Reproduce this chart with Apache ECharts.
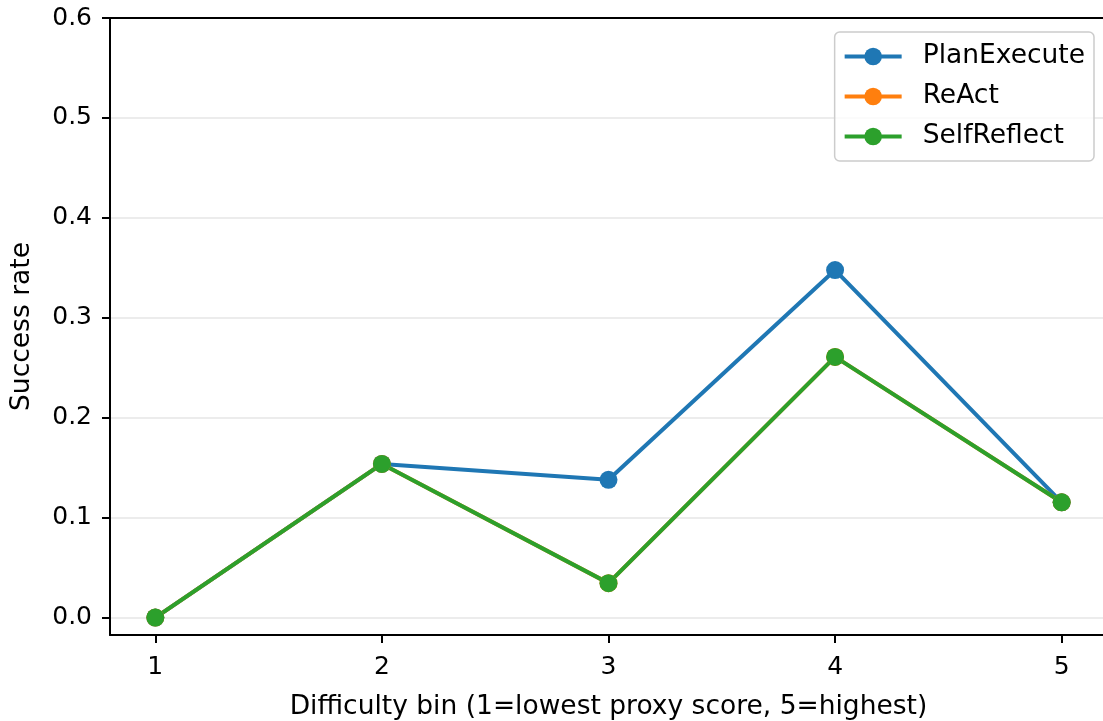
<!DOCTYPE html>
<html>
<head>
<meta charset="utf-8">
<script src="https://cdn.jsdelivr.net/npm/echarts@6/dist/echarts.min.js"></script>
<style>
  html, body { margin: 0; padding: 0; background: #ffffff; }
  #chart { width: 1103px; height: 721px; }
</style>
</head>
<body>
<div id="chart"></div>
<script>
// Difficulty bins and per-method success rates
const bins = [1, 2, 3, 4, 5];
const planExecute = [0.0, 0.1538, 0.1379, 0.3478, 0.1154];
const reAct = [0.0, 0.1538, 0.0345, 0.2609, 0.1154];
const selfReflect = [0.0, 0.1538, 0.0345, 0.2609, 0.1154];
const yTicks = [0.0, 0.1, 0.2, 0.3, 0.4, 0.5, 0.6];

const seriesDefs = [
  { name: 'PlanExecute', color: '#1f77b4', values: planExecute },
  { name: 'ReAct', color: '#ff7f0e', values: reAct },
  { name: 'SelfReflect', color: '#2ca02c', values: selfReflect }
];

const FONT = 'DejaVu Sans';
const FS_TICK = 25;
const FS_TEXT = 26.5;
const SPINE = 2;

const chart = echarts.init(document.getElementById('chart'), null, { renderer: 'canvas' });

chart.setOption({
  animation: false,
  backgroundColor: '#ffffff',
  textStyle: { fontFamily: FONT },
  grid: {
    left: 110, top: 18, width: 997, bottom: 86,
    outerBoundsMode: 'none',
    show: false,
    containLabel: false
  },
  legend: {
    orient: 'vertical',
    right: 9, top: 32,
    padding: [11, 9, 11, 8],
    itemWidth: 57, itemHeight: 22, itemGap: 13,
    backgroundColor: 'rgba(255,255,255,0.8)',
    borderColor: '#cccccc', borderWidth: 1.5, borderRadius: 5,
    lineStyle: { width: 4 },
    textStyle: { fontFamily: FONT, fontSize: FS_TEXT, color: '#000000', padding: [0, 0, 0, 16] },
    data: seriesDefs.map(s => s.name)
  },
  xAxis: [{
    type: 'value',
    min: 0.8, max: 5.2,
    name: 'Difficulty bin (1=lowest proxy score, 5=highest)',
    nameLocation: 'middle', nameGap: 59,
    nameTextStyle: { fontFamily: FONT, fontSize: FS_TEXT, color: '#000000' },
    axisLine: { show: true, onZero: false, lineStyle: { color: '#000000', width: SPINE } },
    axisTick: { show: true, inside: false, length: 8, lineStyle: { color: '#000000', width: SPINE }, customValues: bins },
    axisLabel: { fontFamily: FONT, fontSize: FS_TICK, color: '#000000', margin: 20, customValues: bins },
    splitLine: { show: false }
  }, {
    // top spine, kept above the horizontal grid lines
    type: 'value',
    position: 'top',
    min: 0.8, max: 5.2,
    z: 5,
    axisLine: { show: true, onZero: false, lineStyle: { color: '#000000', width: SPINE } },
    axisTick: { show: false },
    axisLabel: { show: false },
    splitLine: { show: false }
  }],
  yAxis: {
    type: 'value',
    min: -0.0174, max: 0.6,
    name: 'Success rate',
    nameLocation: 'middle', nameGap: 74,
    nameTextStyle: { fontFamily: FONT, fontSize: FS_TEXT, color: '#000000' },
    axisLine: { show: true, onZero: false, lineStyle: { color: '#000000', width: SPINE } },
    axisTick: { show: true, inside: false, length: 8, lineStyle: { color: '#000000', width: SPINE }, customValues: yTicks },
    axisLabel: {
      fontFamily: FONT, fontSize: FS_TICK, color: '#000000', margin: 18,
      customValues: yTicks,
      formatter: v => v.toFixed(1)
    },
    splitLine: { show: true, lineStyle: { color: '#e6e6e6', width: 1.5 } }
  },
  series: seriesDefs.map(s => ({
    name: s.name,
    type: 'line',
    xAxisIndex: 0,
    data: bins.map((b, i) => [b, s.values[i]]),
    symbol: 'circle',
    symbolSize: 18,
    showSymbol: true,
    itemStyle: { color: s.color },
    lineStyle: { color: s.color, width: 4 },
    emphasis: { disabled: true }
  }))
});
</script>
</body>
</html>
